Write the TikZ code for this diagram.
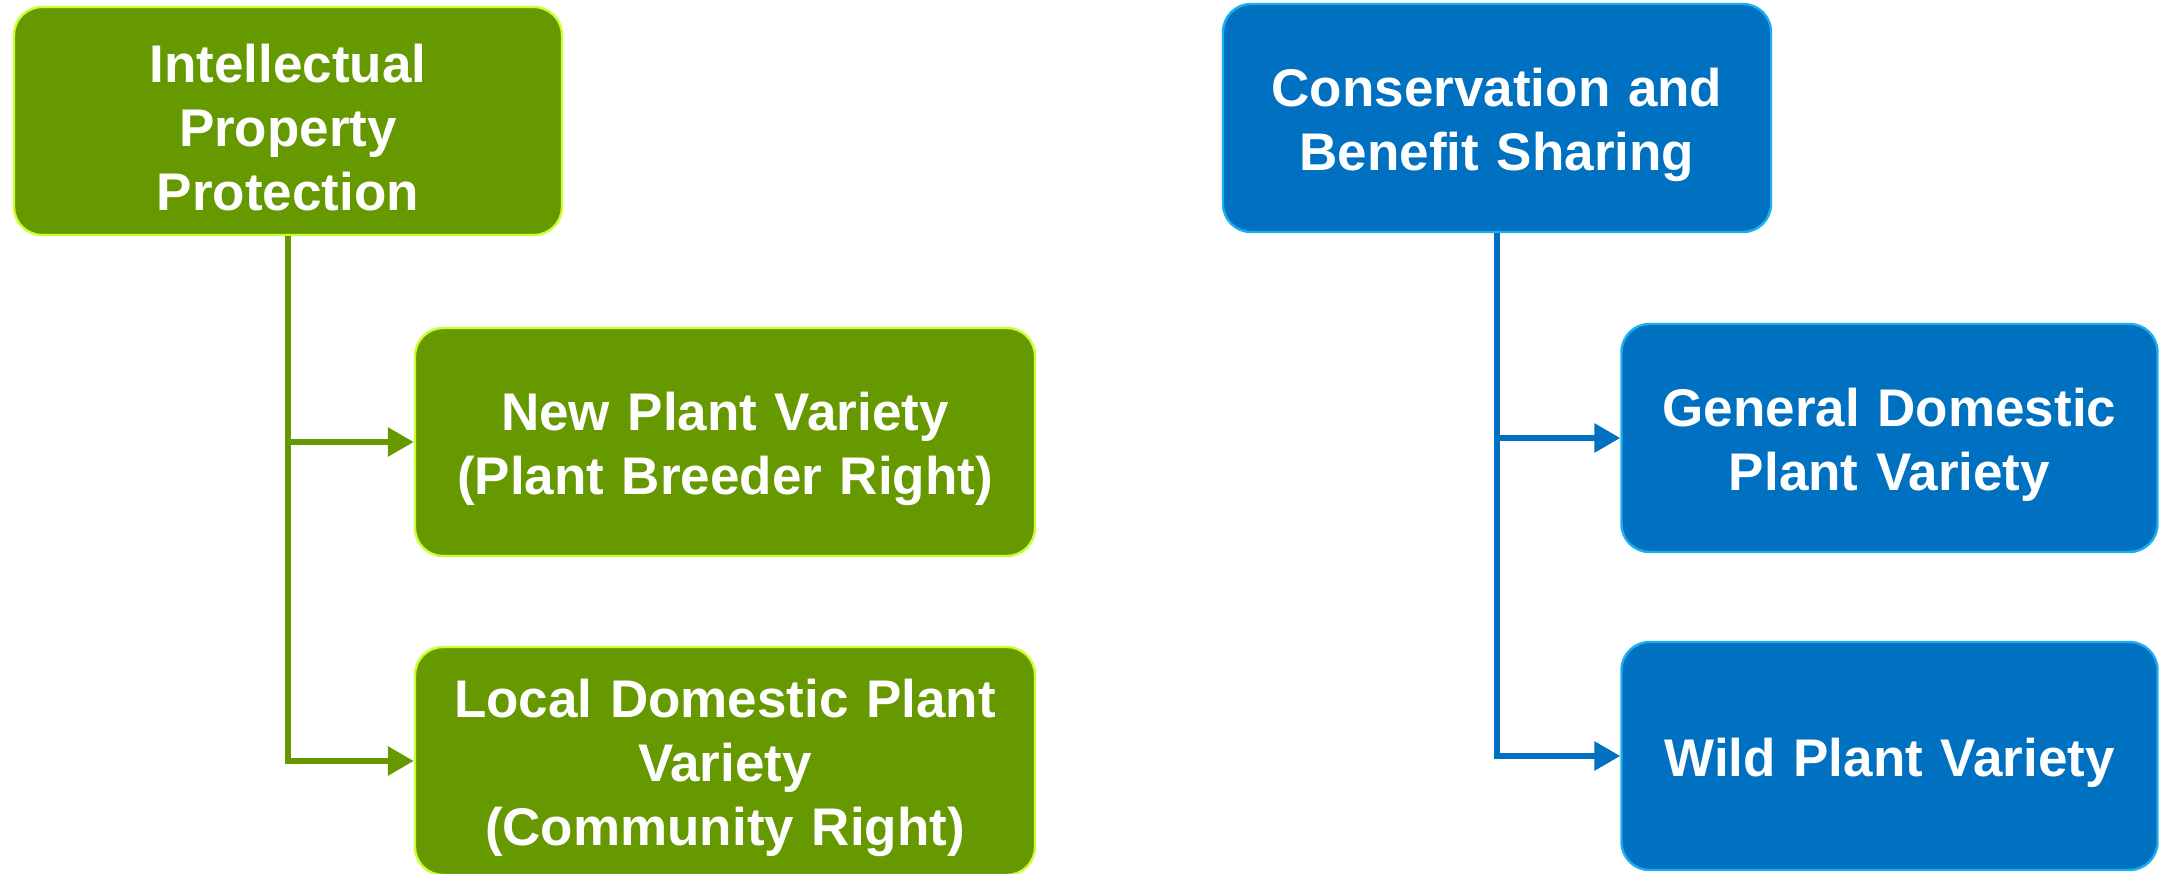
\documentclass[tikz,border=0pt]{standalone}
\usepackage{fontspec}
\setmainfont{Liberation Sans}
\usetikzlibrary{arrows.meta}
\definecolor{leafgreen}{HTML}{669900}
\definecolor{limeedge}{HTML}{CCFF33}
\definecolor{seablue}{HTML}{0070C0}
\definecolor{skyedge}{HTML}{1AB0F0}
\tikzset{
	box/.style={rounded corners=14pt, line width=1.2pt, text=white, align=center,
		font=\bfseries\fontsize{26.5}{32}\selectfont, minimum height=114pt,
		text width=250pt, text height=26pt},
	greenbox/.style={box, draw=limeedge, fill=leafgreen},
	bluebox/.style={box, draw=skyedge, fill=seablue},
	link/.style={line width=3pt, -{Triangle[length=13pt, width=14pt]}},
}
\begin{document}
\begin{tikzpicture}[x=0.5pt, y=-0.5pt]
	\useasboundingbox (0,0) rectangle (2169,873);
	% linke Seite
	\node[greenbox, minimum width=274pt] (ipp) at (288,121)
		{Intellectual\\Property\\Protection};
	\node[greenbox, minimum width=310pt, text width=290pt] (npv) at (725,442)
		{New Plant Variety\\(Plant Breeder Right)};
	\node[greenbox, minimum width=310pt, text width=290pt] (ldp) at (725,761)
		{Local Domestic Plant\\Variety\\(Community Right)};
	\draw[link, leafgreen] (ipp.south) |- (ldp.west);
	\draw[link, leafgreen] (ipp.south |- npv.west) -- (npv.west);

	% rechte Seite
	\node[bluebox, minimum width=274pt] (cbs) at (1497,118)
		{Conservation and\\Benefit Sharing};
	\node[bluebox, minimum width=268pt] (gdp) at (1889.5,438)
		{General Domestic\\Plant Variety};
	\node[bluebox, minimum width=268pt] (wpv) at (1889.5,756)
		{Wild Plant Variety};
	\draw[link, seablue] (cbs.south) |- (wpv.west);
	\draw[link, seablue] (cbs.south |- gdp.west) -- (gdp.west);
\end{tikzpicture}
\end{document}
